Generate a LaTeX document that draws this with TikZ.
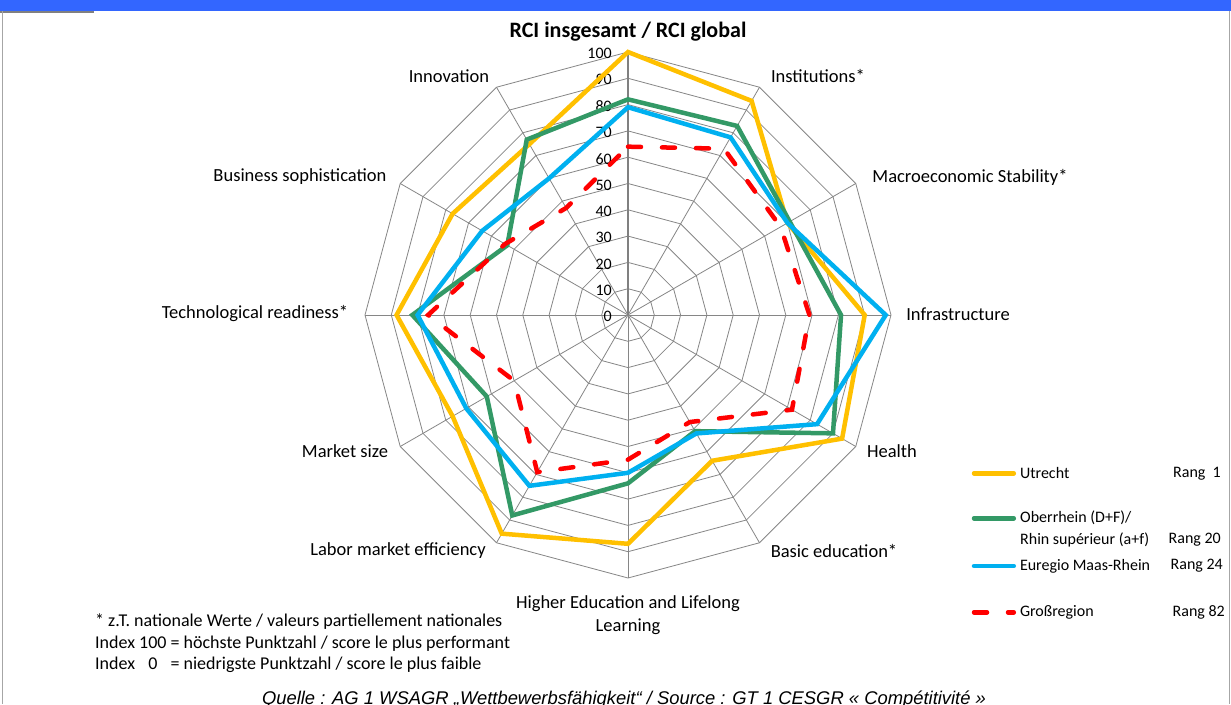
\documentclass[tikz,border=0pt]{standalone}
\usepackage{fontspec}
\setmainfont{Carlito}
\newfontfamily\srcfont{Liberation Sans}
\usetikzlibrary{positioning}

\definecolor{utyellow}{RGB}{255,192,0}
\definecolor{orgreen}{RGB}{51,153,102}
\definecolor{emblue}{RGB}{0,176,240}
\definecolor{grred}{RGB}{255,0,0}
\definecolor{bannerblue}{RGB}{51,102,255}
\definecolor{gridgray}{RGB}{134,134,134}

\begin{document}
\begin{tikzpicture}[x=1pt, y=1pt, node distance = 6pt,
ring/.style={draw=gridgray, line width=0.8pt},
spoke/.style={draw=gridgray, line width=0.8pt},
valaxis/.style={draw=gray, line width=1.6pt},
series/.style={line width=4.5pt},
utline/.style={series, draw=utyellow},
orline/.style={series, draw=orgreen},
emline/.style={series, draw=emblue},
grline/.style={series, draw=grred, dash pattern=on 13pt off 21pt, line cap=round},
catlabel/.style={inner sep=0pt, font=\fontsize{18.5}{23}\selectfont, align=center},
ticklabel/.style={inner sep=0pt, anchor=east, font=\fontsize{16}{18}\selectfont},
legtext/.style={inner sep=0pt, font=\fontsize{16}{21.7}\selectfont, align=left},
note/.style={inner sep=0pt, anchor=west, font=\fontsize{18}{21.7}\selectfont}]

\fill[white] (-628,-389) rectangle (603,315);
\useasboundingbox (-628,-389) rectangle (603,315);

%banner and frame
\fill[bannerblue] (-628,315) rectangle (603,304);
\draw[gray, line width=2pt] (-628,303) -- (-534,303);
\draw[gray!70, line width=1pt] (-625,304) -- (-625,-389);
\draw[gray!70, line width=1pt] (601,304) -- (601,-389);

\node[inner sep=0pt, font=\fontsize{22}{24}\selectfont\bfseries] (title) at (0,283) {RCI insgesamt / RCI global};

%rings and spokes
\foreach \s in {1,...,10}
{
\draw[ring] (90:{26.3*\s}) \foreach \a in {1,...,11}{ -- ({90-30*\a}:{26.3*\s})} -- cycle;
}
\foreach \a in {0,...,11}
{
\draw[spoke] (0,0) -- ({90-30*\a}:263);
}
\draw[valaxis] (0,0) -- (90:263);
\foreach \v [count=\s from 0] in {0,10,...,100}
{
\node[ticklabel] (t\s) at (-16,{26.3*\s-1.5}) {\v};
}

%series
\foreach \v [count=\i from 0] in {100,94,70,90,94,64,87,96,77,88,77,75}
  \coordinate (ut\i) at ({90-30*\i}:{2.63*\v});
\foreach \v [count=\i from 0] in {82,83,71,81,90,51,64,88,62,82,53,77}
  \coordinate (or\i) at ({90-30*\i}:{2.63*\v});
\foreach \v [count=\i from 0] in {79,78,70,98,83,52,60,75,71,80,64,60}
  \coordinate (em\i) at ({90-30*\i}:{2.63*\v});
\foreach \v [count=\i from 0] in {64,73,67,69,72,47,55,69,50,76,54,47}
  \coordinate (gr\i) at ({90-30*\i}:{2.63*\v});

\draw[utline] (ut0) \foreach \i in {1,...,11}{ -- (ut\i)} -- cycle;
\draw[orline] (or0) \foreach \i in {1,...,11}{ -- (or\i)} -- cycle;
\draw[emline] (em0) \foreach \i in {1,...,11}{ -- (em\i)} -- cycle;
\draw[grline] (gr0) \foreach \i in {1,...,11}{ -- (gr\i)} -- cycle;

%category labels
\node[catlabel] (inst) at (190,239) {Institutions*};
\node[catlabel] (macro) at (342,138) {Macroeconomic Stability*};
\node[catlabel] (infra) at (330,1) {Infrastructure};
\node[catlabel] (health) at (264,-136) {Health};
\node[catlabel] (basic) at (206,-236) {Basic education*};
\node[catlabel] (higher) at (0,-300.5) {Higher Education and Lifelong\\Learning};
\node[catlabel] (labor) at (-230,-236) {Labor market efficiency};
\node[catlabel] (market) at (-283,-136) {Market size};
\node[catlabel] (tech) at (-373,1) {Technological readiness*};
\node[catlabel] (business) at (-328,138) {Business sophistication};
\node[catlabel] (innov) at (-179,239) {Innovation};

%legend
\coordinate (utA) at (346,-158.3);
\coordinate (utB) at (385.8,-158.3);
\draw[utline, line cap=round] (utA) -- (utB);
\node[legtext, right = of utB] (utlab) {Utrecht};
\node[legtext, anchor=east] (utrang) at (593,-158.3) {Rang\ \ 1};

\coordinate (orA) at (346,-203.3);
\coordinate (orB) at (385.8,-203.3);
\draw[orline, line cap=round] (orA) -- (orB);
\node[legtext, anchor=west] (orlab) at (392,-214.2) {Oberrhein (D+F)/\\Rhin supérieur (a+f)};
\node[legtext, anchor=east] (orrang) at (593,-225) {Rang 20};

\coordinate (emA) at (346,-251);
\coordinate (emB) at (385.8,-251);
\draw[emline, line cap=round] (emA) -- (emB);
\node[legtext, right = of emB] (emlab) {Euregio Maas-Rhein};
\node[legtext, anchor=east] (emrang) at (595,-251) {Rang 24};

\coordinate (grA) at (346,-297.3);
\coordinate (grB) at (385.8,-297.3);
\draw[grline] (grA) -- (grB);
\node[legtext, right = of grB] (grlab) {Großregion};
\node[legtext, anchor=east] (grrang) at (597,-297.3) {Rang 82};

%notes
\node[note] (n1) at (-533,-306.7) {* z.T. nationale Werte / valeurs partiellement nationales};
\node[note] (n2) at (-533,-328.3) {Index 100 = höchste Punktzahl / score le plus performant};
\node[note] (n3) at (-533,-350) {Index \hphantom{1}0\hphantom{0} = niedrigste Punktzahl / score le plus faible};
\node[inner sep=0pt, anchor=base, font=\srcfont\itshape\fontsize{18.4}{20}\selectfont] (source) at (-4,-389.5) {Quelle : AG 1 WSAGR „Wettbewerbsfähigkeit“ / Source : GT 1 CESGR « Compétitivité »};

\end{tikzpicture}
\end{document}
